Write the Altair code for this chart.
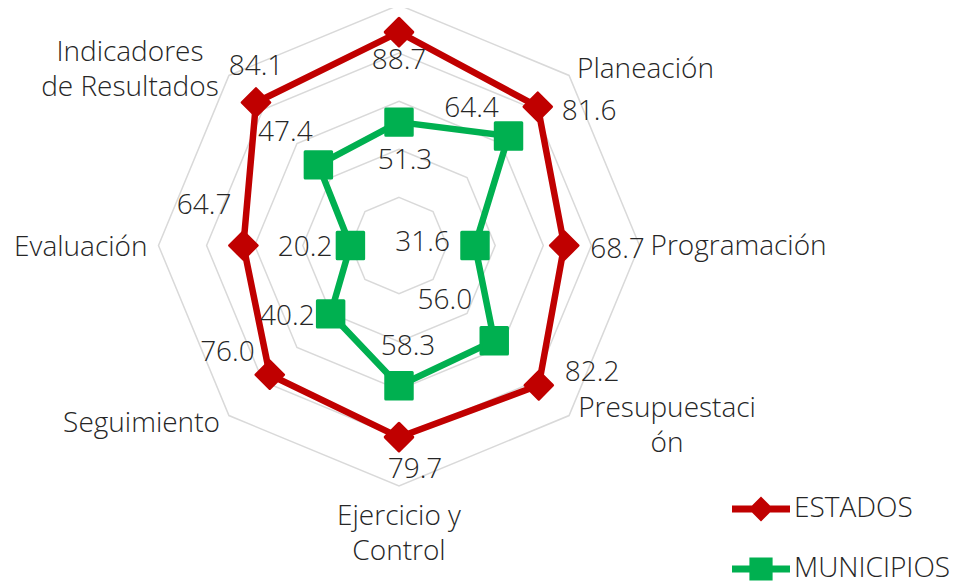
import altair as alt
import pandas as pd

# ---------------- data ----------------
categories = ["", "Planeación", "Programación", "Presupuestación",
              "Ejercicio y Control", "Seguimiento", "Evaluación",
              "Indicadores de Resultados"]
category_display = ["", "Planeación", "Programación", "Presupuestaci\nón",
                    "Ejercicio y\nControl", "Seguimiento", "Evaluación",
                    "Indicadores\nde Resultados"]
series_names = ["ESTADOS", "MUNICIPIOS"]
estados = [88.7, 81.6, 68.7, 82.2, 79.7, 76.0, 64.7, 84.1]
municipios = [51.3, 64.4, 31.6, 56.0, 58.3, 40.2, 20.2, 47.4]
ring_levels = [20, 40, 60, 80, 100]
axis_max = 100

# ---------------- style / layout ----------------
RED = "#C00000"
GREEN = "#00B050"
GRID = "#D9D9D9"
TEXT = "#262626"
FONT = "Open Sans"
FW = 300
FS = 28

W, H = 948, 577
CX, CY = 391, 237.5       # centre of the radar in plot pixels
PX = 2.405                # pixels per unit

xs = alt.Scale(domain=[-CX / PX, (W - CX) / PX], nice=False, zero=False)
ys = alt.Scale(domain=[-(H - CY) / PX, CY / PX], nice=False, zero=False)

n = len(categories)
rows = []
for s, vals in zip(series_names, [estados, municipios]):
    for i, v in enumerate(vals):
        rows.append({"series": s, "idx": i, "cat": categories[i], "value": v})
values_df = pd.DataFrame(rows)

ring_df = pd.DataFrame([{"level": lv, "idx": i, "value": lv}
                        for lv in ring_levels for i in range(n)])
cat_df = pd.DataFrame([{"idx": i, "label": category_display[i], "value": axis_max}
                       for i in range(n)])

calc = dict(px=f"datum.value * sin(datum.idx * 2 * PI / {n})",
            py=f"datum.value * cos(datum.idx * 2 * PI / {n})")
X = alt.X("px:Q", scale=xs, axis=None)
Y = alt.Y("py:Q", scale=ys, axis=None)

layers = []

# grid rings
layers.append(
    alt.Chart(ring_df).transform_calculate(**calc)
    .mark_line(interpolate="linear-closed", color=GRID, strokeWidth=1.5)
    .encode(x=X, y=Y, detail="level:N", order="idx:Q")
)

colors = {"ESTADOS": RED, "MUNICIPIOS": GREEN}
shapes = {"ESTADOS": "diamond", "MUNICIPIOS": "square"}
msize = {"ESTADOS": 760, "MUNICIPIOS": 700}

# series lines
for s in series_names:
    layers.append(
        alt.Chart(values_df).transform_filter(f"datum.series == '{s}'")
        .transform_calculate(**calc)
        .mark_line(interpolate="linear-closed", color=colors[s], strokeWidth=6.5,
                   strokeJoin="round")
        .encode(x=X, y=Y, order="idx:Q")
    )
# markers
for s in series_names:
    layers.append(
        alt.Chart(values_df).transform_filter(f"datum.series == '{s}'")
        .transform_calculate(**calc)
        .mark_point(shape=shapes[s], filled=True, size=msize[s], color=colors[s],
                    opacity=1, stroke=colors[s], strokeWidth=3, strokeJoin="round")
        .encode(x=X, y=Y)
    )

# value label placement (align, dx, dy) per category index
label_layout = {
    "ESTADOS": [("center", 0, 29), ("left", 24, 5), ("left", 26, 4),
                ("left", 26, -12), ("center", 16, 33), ("right", -15, -22),
                ("right", -12, -40), ("center", 0, -35)],
    "MUNICIPIOS": [("center", 6, 39), ("center", -37, -27), ("right", -25, -3),
                   ("right", -22, -40), ("center", 9, -39), ("right", -16, 3),
                   ("right", -18, 2), ("center", -33, -32)],
}
for s in series_names:
    for i, (al, dx, dy) in enumerate(label_layout[s]):
        layers.append(
            alt.Chart(values_df)
            .transform_filter(f"datum.series == '{s}' && datum.idx == {i}")
            .transform_calculate(**calc)
            .mark_text(align=al, baseline="middle", dx=dx, dy=dy, font=FONT,
                       fontSize=FS, fontWeight=FW, color=TEXT)
            .encode(x=X, y=Y, text=alt.Text("value:Q", format=".1f"))
        )

# category labels (align, dx, dy of first baseline) relative to the outer vertex
cat_layout = [None, ("left", 8, 3), ("left", 11, 9), ("center", 98, 1),
              ("center", 0, 39), ("right", -9, 16), ("right", -11, 10),
              ("center", -99, -14)]
for i, lay in enumerate(cat_layout):
    if lay is None:
        continue
    al, dx, dy = lay
    layers.append(
        alt.Chart(cat_df).transform_filter(f"datum.idx == {i}")
        .transform_calculate(lines="split(datum.label, '\\n')", **calc)
        .mark_text(align=al, baseline="alphabetic", dx=dx, dy=dy, font=FONT,
                   fontSize=FS, fontWeight=FW, color=TEXT, lineHeight=35)
        .encode(x=X, y=Y, text="lines:N")
    )

# legend (line + marker symbols)
legend_paths = [
    "M-1,-0.12 L-0.31,-0.12 L0,-0.43 L0.31,-0.12 L1,-0.12 L1,0.12 L0.31,0.12 "
    "L0,0.43 L-0.31,0.12 L-1,0.12 Z",
    "M-1,-0.12 L-0.4,-0.12 L-0.4,-0.4 L0.4,-0.4 L0.4,-0.12 L1,-0.12 L1,0.12 "
    "L0.4,0.12 L0.4,0.4 L-0.4,0.4 L-0.4,0.12 L-1,0.12 Z",
]
leg = alt.Legend(orient="none", legendX=724, legendY=472, title=None,
                 symbolSize=3364, symbolStrokeWidth=0, labelFont=FONT,
                 labelFontSize=FS, labelFontWeight=FW, labelColor=TEXT,
                 labelLimit=400, labelOffset=4, rowPadding=17, padding=0,
                 symbolOpacity=1)
layers.append(
    alt.Chart(values_df).transform_filter("false")
    .mark_point(filled=True, opacity=1)
    .encode(
        color=alt.Color("series:N", scale=alt.Scale(domain=series_names,
                                                    range=[RED, GREEN]), legend=leg),
        shape=alt.Shape("series:N", scale=alt.Scale(domain=series_names,
                                                    range=legend_paths), legend=leg),
    )
)

chart = (
    alt.layer(*layers)
    .properties(width=W, height=H, autosize=alt.AutoSizeParams(type="none"),
                padding=0)
    .configure_view(strokeWidth=0)
)

chart.save("out.html", embed_options={"renderer": "svg", "actions": False})
